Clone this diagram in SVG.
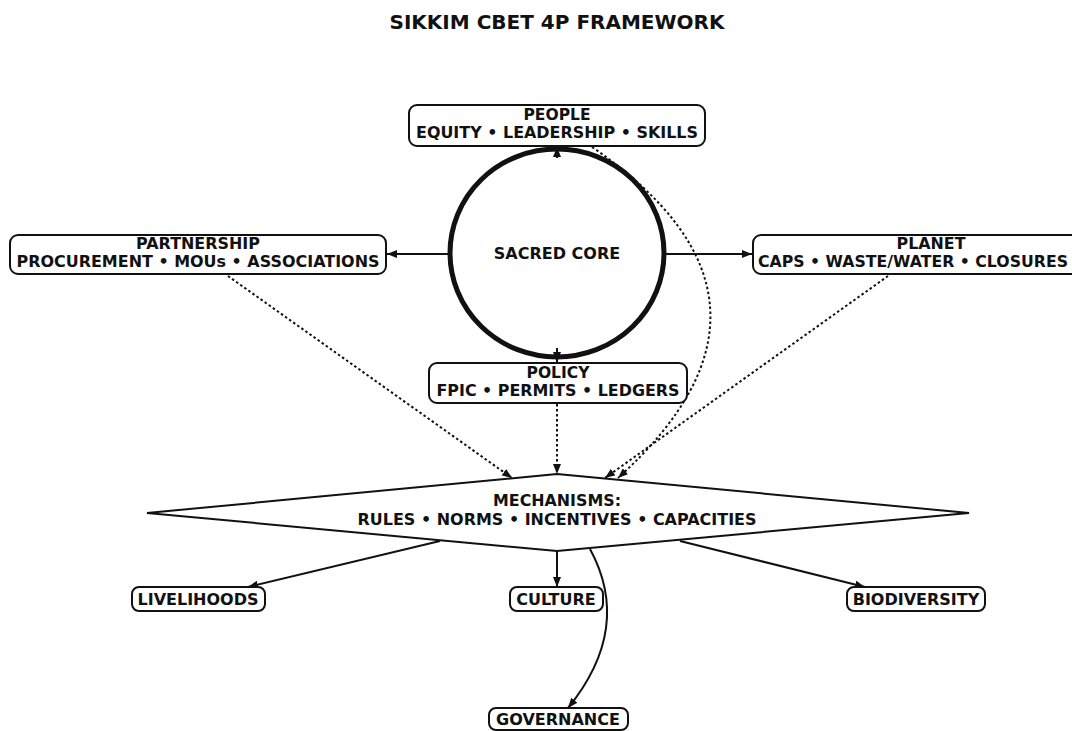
<svg xmlns="http://www.w3.org/2000/svg" width="1072" height="731" viewBox="0 0 1072 731">
<defs>
<style>
text{font-family:"DejaVu Sans","Liberation Sans",sans-serif;font-weight:bold;fill:#111;text-anchor:middle}
.t{font-size:16px}
.s{font-size:15px}
.title{font-size:20px}
.box{fill:#fff;stroke:#111;stroke-width:2}
.solid{fill:none;stroke:#111;stroke-width:2}
.dot{fill:none;stroke:#111;stroke-width:2;stroke-dasharray:2.5 2.5}
</style>
<marker id="ah" viewBox="0 0 10 8" refX="10" refY="4" markerWidth="10" markerHeight="8" markerUnits="userSpaceOnUse" orient="auto">
<path d="M0,0 L10,4 L0,8 Z" fill="#111"/>
</marker>
</defs>
<rect width="1072" height="731" fill="#fff"/>
<text class="title" x="557" y="29">SIKKIM CBET 4P FRAMEWORK</text>

<g id="connectors">
<path class="solid" d="M557,158 L557,147" marker-end="url(#ah)"/>
<path class="solid" d="M557,348 L557,362" marker-end="url(#ah)"/>
<path class="solid" d="M449,254 L387,254" marker-end="url(#ah)"/>
<path class="solid" d="M666,254 L752,254" marker-end="url(#ah)"/>
<path class="dot" d="M228,276 L512,478" marker-end="url(#ah)"/>
<path class="dot" d="M557,404 L557,474" marker-end="url(#ah)"/>
<path class="dot" d="M888,276 L605,478" marker-end="url(#ah)"/>
<path class="dot" d="M592,147 Q815,300 618,478" marker-end="url(#ah)"/>
<path class="solid" d="M440,541 L248,587" marker-end="url(#ah)"/>
<path class="solid" d="M557,551 L557,587" marker-end="url(#ah)"/>
<path class="solid" d="M680,541 L865,587" marker-end="url(#ah)"/>
<path class="solid" d="M590,549 Q633,628 568,708" marker-end="url(#ah)"/>
</g>

<g id="core">
<ellipse cx="557" cy="253" rx="107" ry="104" fill="none" stroke="#111" stroke-width="5"/>
<text class="t" x="557" y="259">SACRED CORE</text>
</g>

<g id="people">
<rect class="box" x="409" y="105" width="296" height="41" rx="8"/>
<text class="s" x="557" y="120" textLength="67" lengthAdjust="spacingAndGlyphs">PEOPLE</text>
<text class="s" x="557" y="138" textLength="282" lengthAdjust="spacingAndGlyphs">EQUITY • LEADERSHIP • SKILLS</text>
</g>

<g id="partnership">
<rect class="box" x="10" y="235" width="376" height="39" rx="8"/>
<text class="s" x="198" y="249" textLength="124" lengthAdjust="spacingAndGlyphs">PARTNERSHIP</text>
<text class="s" x="198" y="267" textLength="363" lengthAdjust="spacingAndGlyphs">PROCUREMENT • MOUs • ASSOCIATIONS</text>
</g>

<g id="planet">
<rect class="box" x="753" y="235" width="356" height="39" rx="8"/>
<text class="s" x="931" y="249" textLength="69" lengthAdjust="spacingAndGlyphs">PLANET</text>
<text class="s" x="758" y="267" style="text-anchor:start" textLength="310" lengthAdjust="spacingAndGlyphs">CAPS • WASTE/WATER • CLOSURES</text>
</g>

<g id="policy">
<rect class="box" x="429" y="363" width="258" height="40" rx="8"/>
<text class="s" x="558" y="378" textLength="63" lengthAdjust="spacingAndGlyphs">POLICY</text>
<text class="s" x="558" y="396" textLength="243" lengthAdjust="spacingAndGlyphs">FPIC • PERMITS • LEDGERS</text>
</g>

<g id="mechanisms">
<polygon points="147,513 557,474 969,513 557,551" fill="#fff" stroke="#111" stroke-width="2"/>
<text class="s" x="557" y="506" textLength="128" lengthAdjust="spacingAndGlyphs">MECHANISMS:</text>
<text class="s" x="557" y="525" textLength="399" lengthAdjust="spacingAndGlyphs">RULES • NORMS • INCENTIVES • CAPACITIES</text>
</g>

<g id="livelihoods">
<rect class="box" x="132" y="587" width="133" height="24" rx="7"/>
<text class="t" x="198" y="605">LIVELIHOODS</text>
</g>

<g id="culture">
<rect class="box" x="510" y="587" width="93" height="24" rx="7"/>
<text class="t" x="556" y="605">CULTURE</text>
</g>

<g id="biodiversity">
<rect class="box" x="847" y="587" width="138" height="24" rx="7"/>
<text class="t" x="916" y="605">BIODIVERSITY</text>
</g>

<g id="governance">
<rect class="box" x="489" y="708" width="139" height="22" rx="7"/>
<text class="t" x="558" y="725">GOVERNANCE</text>
</g>
</svg>
